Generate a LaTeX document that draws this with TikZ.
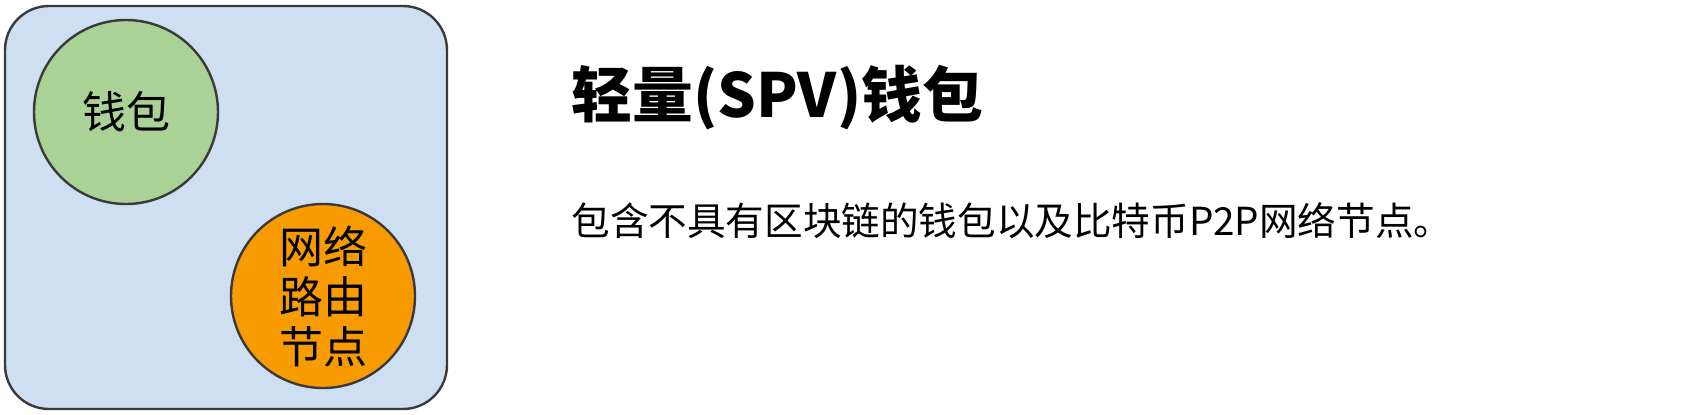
\documentclass[tikz,border=0pt]{standalone}
\usepackage{fontspec}
\newfontfamily\cjk{Noto Sans CJK SC}
\usepackage{xcolor}
\usepackage{tikz}
\usetikzlibrary{positioning}
\definecolor{boxblue}{HTML}{CEDFF1}
\definecolor{walletgreen}{HTML}{AAD196}
\definecolor{nodeorange}{HTML}{F79B00}
\definecolor{edgegray}{HTML}{3A3A3A}

\begin{document}
\begin{tikzpicture}[x=0.5pt,y=-0.5pt,
  part/.style={circle,draw=edgegray,line width=1.2pt,minimum size=92pt,inner sep=0pt,
    align=center,font=\cjk\fontsize{22pt}{25pt}\selectfont}]
\useasboundingbox (0,0) rectangle (1698,414);
\draw[draw=edgegray,fill=boxblue,line width=1.2pt,rounded corners=22pt] (5,6) rectangle (447,409);
\node[part,fill=walletgreen] (wallet) at (126,112) {钱包};
\node[part,fill=nodeorange] (router) at (323,296) {网络\\路由\\节点};
\node[anchor=west,inner sep=0pt,font=\cjk\bfseries\fontsize{30.4pt}{36pt}\selectfont] (title) at (571,98) {轻量(SPV)钱包};
\node[anchor=west,inner sep=0pt,font=\cjk\fontsize{19.3pt}{22pt}\selectfont] (desc) at (571,221) {包含不具有区块链的钱包以及比特币P2P网络节点。};
\end{tikzpicture}
\end{document}
